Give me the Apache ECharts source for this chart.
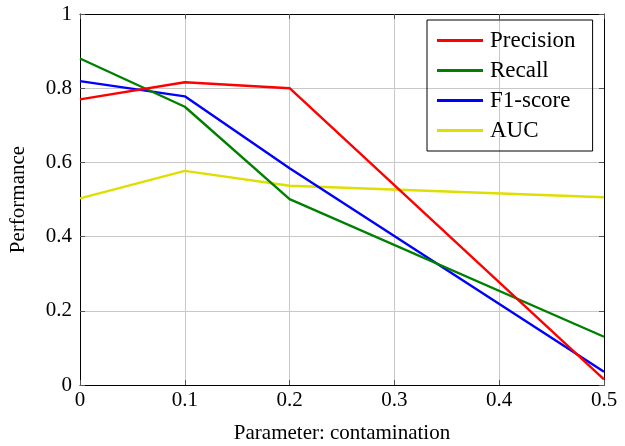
<!DOCTYPE html>
<html>
<head>
<meta charset="utf-8">
<script src="https://cdn.jsdelivr.net/npm/echarts@6/dist/echarts.min.js"></script>
<style>
  html, body { margin: 0; padding: 0; background: #fff; }
  #chart { width: 625px; height: 446px; }
</style>
</head>
<body>
<div id="chart"></div>
<script>
// contamination values on the x axis
const contamination = [0, 0.1, 0.2, 0.5];
const precision = [0.770, 0.816, 0.800, 0.015];
const recall = [0.880, 0.750, 0.501, 0.130];
const f1Score = [0.819, 0.778, 0.584, 0.036];
const auc = [0.503, 0.577, 0.537, 0.506];

const seriesNames = ["Precision", "Recall", "F1-score", "AUC"];
const seriesColors = ["#ff0000", "#008000", "#0000ff", "#dede00"];
const seriesData = [precision, recall, f1Score, auc];

const font = "Liberation Serif";
const chart = echarts.init(document.getElementById("chart"));

const pairs = (vals) => vals.map((v, i) => [contamination[i], v]);

const frameAxis = {
  min: 0,
  axisLine: { show: true, onZero: false, lineStyle: { color: "#000", width: 1 } },
  axisTick: { show: true, inside: true, length: 5, lineStyle: { color: "#555" } },
  splitLine: { show: false },
};

const options = {
  animation: false,
  textStyle: { fontFamily: font },
  grid: { left: 80, right: 21, top: 14, bottom: 61, containLabel: false, outerBoundsMode: "none" },
  legend: {
    left: 427,
    top: 20,
    orient: "vertical",
    padding: [9, 17, 9, 10],
    itemGap: 7,
    itemWidth: 46,
    itemHeight: 3,
    borderColor: "#000",
    borderWidth: 1,
    borderRadius: 0,
    icon: "rect",
    textStyle: { fontFamily: font, fontSize: 23, color: "#000", padding: [0, 0, 0, 2] },
    data: seriesNames,
  },
  xAxis: [
    {
      type: "value",
      min: 0,
      max: 0.5,
      interval: 0.1,
      name: "Parameter: contamination",
      nameLocation: "middle",
      nameGap: 38,
      nameTextStyle: { fontFamily: font, fontSize: 21, color: "#000" },
      axisLine: { show: true, onZero: false, lineStyle: { color: "#000" } },
      axisTick: { show: true, inside: true, length: 5, lineStyle: { color: "#555" } },
      axisLabel: { fontFamily: font, fontSize: 21, color: "#000", margin: 5 },
      splitLine: { show: true, lineStyle: { color: "#c8c8c8", width: 1 } },
    },
    Object.assign({}, frameAxis, {
      type: "value",
      position: "top",
      max: 0.5,
      interval: 0.1,
      axisLabel: { show: false },
    }),
  ],
  yAxis: [
    {
      type: "value",
      min: 0,
      max: 1,
      interval: 0.2,
      name: "Performance",
      nameLocation: "middle",
      nameGap: 51,
      nameTextStyle: { fontFamily: font, fontSize: 21, color: "#000" },
      axisLine: { show: true, onZero: false, lineStyle: { color: "#000" } },
      axisTick: { show: true, inside: true, length: 5, lineStyle: { color: "#555" } },
      axisLabel: {
        fontFamily: font,
        fontSize: 21,
        color: "#000",
        margin: 8,
        formatter: (v) => String(Math.round(v * 10) / 10),
      },
      splitLine: { show: true, lineStyle: { color: "#c8c8c8", width: 1 } },
    },
    Object.assign({}, frameAxis, {
      type: "value",
      position: "right",
      max: 1,
      interval: 0.2,
      axisLabel: { show: false },
    }),
  ],
  series: seriesNames.map((name, i) => ({
    name: name,
    type: "line",
    data: pairs(seriesData[i]),
    symbol: "none",
    lineStyle: { color: seriesColors[i], width: 2.4 },
    itemStyle: { color: seriesColors[i] },
    z: 10 - i,
  })),
};

chart.setOption(options);
</script>
</body>
</html>
